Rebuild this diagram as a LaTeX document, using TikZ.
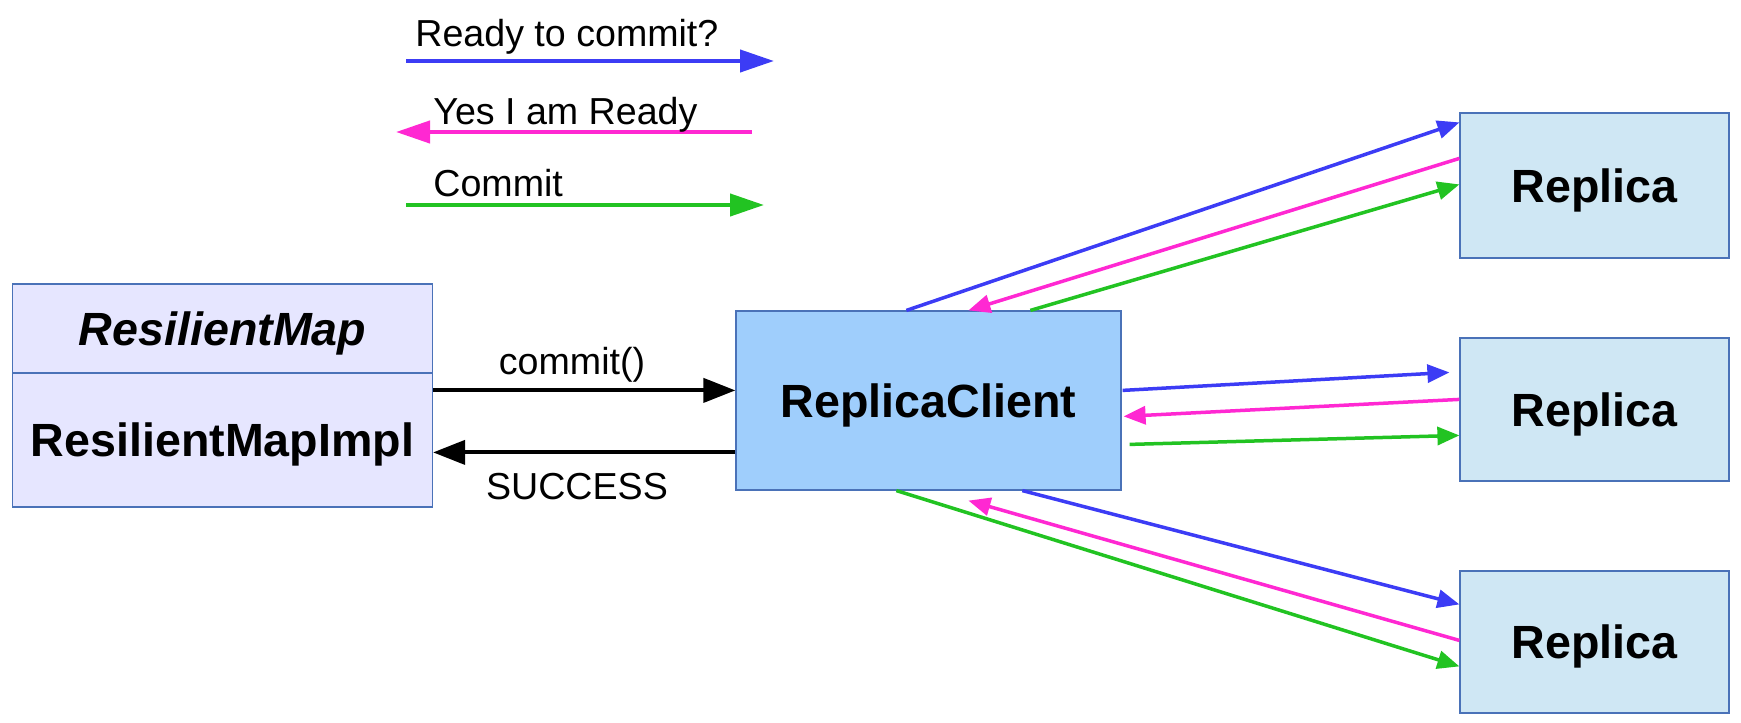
\documentclass[tikz,border=0pt]{standalone}
\usepackage{fontspec}
\setmainfont{Liberation Sans}
\usetikzlibrary{arrows.meta,calc}
\definecolor{cblue}{HTML}{3C3CF5}
\definecolor{cpink}{HTML}{FF28D2}
\definecolor{cgreen}{HTML}{22C322}
\definecolor{rmfill}{HTML}{E6E6FF}
\definecolor{rcfill}{HTML}{9FCEFC}
\definecolor{repfill}{HTML}{CFE7F4}
\definecolor{bord}{HTML}{4A72B8}
\begin{document}
\begin{tikzpicture}[x=0.5pt,y=-0.5pt,
  box/.style={draw=bord, line width=0.6pt, inner sep=0pt, text depth=0pt,
    font=\fontsize{23.3}{28}\selectfont\bfseries},
  lbl/.style={font=\fontsize{18.8}{22}\selectfont, inner sep=0pt},
  msg/.style={line width=1.75pt, -{Triangle[length=11pt,width=9pt]}},
  leg/.style={line width=2.1pt, -{Triangle[length=17pt,width=11pt]}},
  call/.style={line width=2pt, -{Triangle[length=16pt,width=12pt]}},
]
\useasboundingbox (0,0) rectangle (1741,723);

% boxes
\node[box, fill=rmfill, minimum width=210pt, minimum height=44.5pt,
  font=\fontsize{23.3}{28}\selectfont\bfseries\itshape] (rm) at (222.5,328.5) {ResilientMap};
\node[box, fill=rmfill, minimum width=210pt, minimum height=67pt] (rmi) at (222.5,440) {ResilientMapImpl};
\node[box, fill=rcfill, minimum width=192.5pt, minimum height=89.5pt] (rc) at (928.5,400.5) {ReplicaClient};
\node[box, fill=repfill, minimum width=134.5pt, minimum height=72.5pt] (r1) at (1594.5,185.5) {Replica};
\node[box, fill=repfill, minimum width=134.5pt, minimum height=71.5pt] (r2) at (1594.5,409.5) {Replica};
\node[box, fill=repfill, minimum width=134.5pt, minimum height=71pt] (r3) at (1594.5,642) {Replica};

% legend
\coordinate (lb1) at (406,61);  \coordinate (lb2) at (774,61);
\coordinate (lp1) at (752,132); \coordinate (lp2) at (396,132);
\coordinate (lg1) at (406,205); \coordinate (lg2) at (764,205);
\draw[leg, cblue] (lb1) -- (lb2);
\draw[leg, cpink] (lp1) -- (lp2);
\draw[leg, cgreen] (lg1) -- (lg2);
\node[lbl, anchor=base west] (tready) at (415,46) {Ready to commit?};
\node[lbl, anchor=base west] (tyes) at (433,124) {Yes I am Ready};
\node[lbl, anchor=base west] (tcommit) at (433,196) {Commit};

% calls
\draw[call] ($(rmi.north east)+(0,18)$) -- ($(rc.north west)+(0,80)$);
\draw[call] ($(rc.north west)+(0,142)$) -- ($(rmi.north east)+(0,80)$);
\node[lbl, text depth=0pt] (tcall) at (572,361) {commit()};
\node[lbl, text depth=0pt] (tsucc) at (577,486) {SUCCESS};

% top replica
\draw[msg, cblue] ($(rc.north west)+(171,0)$) -- ($(r1.north west)+(0,10)$);
\draw[msg, cpink] ($(r1.north west)+(0,46)$) -- ($(rc.north west)+(233,0)$);
\draw[msg, cgreen] ($(rc.north west)+(295,0)$) -- ($(r1.north west)+(0,72)$);

% middle replica
\draw[msg, cblue] ($(rc.north east)+(1,80)$) -- ($(r2.north west)+(-10,35)$);
\draw[msg, cpink] ($(r2.north west)+(0,62)$) -- ($(rc.north east)+(2,106)$);
\draw[msg, cgreen] ($(rc.north east)+(8,134)$) -- ($(r2.north west)+(0,98)$);

% bottom replica
\draw[msg, cblue] ($(rc.south west)+(287,0)$) -- ($(r3.north west)+(0,34)$);
\draw[msg, cpink] ($(r3.north west)+(0,70)$) -- ($(rc.south west)+(233,10)$);
\draw[msg, cgreen] ($(rc.south west)+(161,0)$) -- ($(r3.north west)+(0,96)$);
\end{tikzpicture}
\end{document}
